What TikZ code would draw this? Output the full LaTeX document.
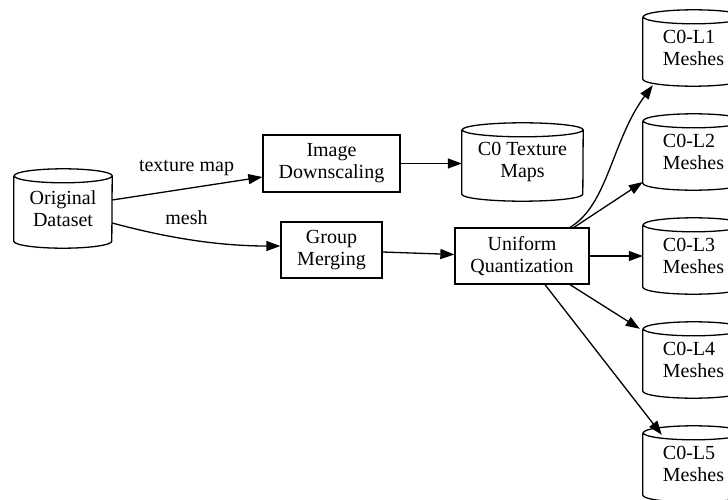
\documentclass[tikz,border=0pt]{standalone}
\usepackage{fontspec}
\setmainfont{Liberation Serif}
\usetikzlibrary{arrows.meta,calc}

% outline of a data-store cylinder around a named node:
% #1 node name, #2 half width, #3 cap half height
\newcommand\storeoutline[3]{%
  \draw[line width=1.3pt]
    ([yshift=-#3]#1.north west) -- ([yshift=#3]#1.south west)
    arc[start angle=180,end angle=360,x radius=#2,y radius=#3]
    -- ([yshift=-#3]#1.north east)
    arc[start angle=0,end angle=360,x radius=#2,y radius=#3];}

\tikzset{
  every node/.style={font=\fontsize{20}{22}\selectfont},
  proc/.style={draw, line width=1.3pt, inner sep=0pt, align=center},
  store/.style={inner sep=0pt, align=center},
  level/.style={store, align=left, minimum width=101pt, minimum height=76pt},
  flow/.style={line width=1.3pt, -{Triangle[length=14pt,width=10pt]}},
}

\begin{document}
\begin{tikzpicture}[x=1pt,y=-1pt]
\useasboundingbox (0,0) rectangle (728,500);

% nodes
\node[store, minimum width=98pt, minimum height=79pt] (orig) at (63,208.5) {Original\\Dataset};
\node[proc, minimum width=137pt, minimum height=57pt] (down) at (331.5,163.5) {Image\\Downscaling};
\node[store, minimum width=121pt, minimum height=78pt] (tex) at (522.5,162) {C0 Texture\\Maps};
\node[proc, minimum width=101pt, minimum height=56pt] (merge) at (331.5,250) {Group\\Merging};
\node[proc, minimum width=134pt, minimum height=56pt] (quant) at (522,256) {Uniform\\Quantization};
\node[level] (L1) at (693.5,48) {C0-L1\\Meshes};
\node[level] (L2) at (693.5,152) {C0-L2\\Meshes};
\node[level] (L3) at (693.5,256) {C0-L3\\Meshes};
\node[level] (L4) at (693.5,360) {C0-L4\\Meshes};
\node[level] (L5) at (693.5,464) {C0-L5\\Meshes};

\storeoutline{orig}{49pt}{7pt}
\storeoutline{tex}{60.5pt}{7pt}
\storeoutline{L1}{50.5pt}{7pt}
\storeoutline{L2}{50.5pt}{7pt}
\storeoutline{L3}{50.5pt}{7pt}
\storeoutline{L4}{50.5pt}{7pt}
\storeoutline{L5}{50.5pt}{7pt}

% edge labels
\node (lbltex) at (186.5,168) {texture map};
\node (lblmesh) at (186.5,218) {mesh};

% connectors
\draw[flow] ($(orig.east)+(0,-8.5)$) -- ($(down.west)+(0,13.5)$);
\draw[flow] ($(orig.east)+(0,14.5)$) .. controls (175,240) and (225,246) .. ($(merge.west)+(0,-4)$);
\draw[flow] (down.east) -- (down.east -| tex.west);
\draw[flow] ($(merge.east)+(0,2)$) -- ($(quant.west)+(0,-1.5)$);
\draw[flow] ($(quant.north)+(48,0)$) .. controls (608,205) and (612,140) .. ($(L1.south west)+(10,-1)$);
\draw[flow] ($(quant.north)+(52,0)$) -- ($(L2.west)+(0,30)$);
\draw[flow] (quant.east) -- (quant.east -| L3.west);
\draw[flow] ($(quant.south)+(48,0)$) -- ($(L4.north west)+(-3,7)$);
\draw[flow] ($(quant.south)+(23,0)$) -- ($(L5.north west)+(19,9)$);
\end{tikzpicture}
\end{document}
